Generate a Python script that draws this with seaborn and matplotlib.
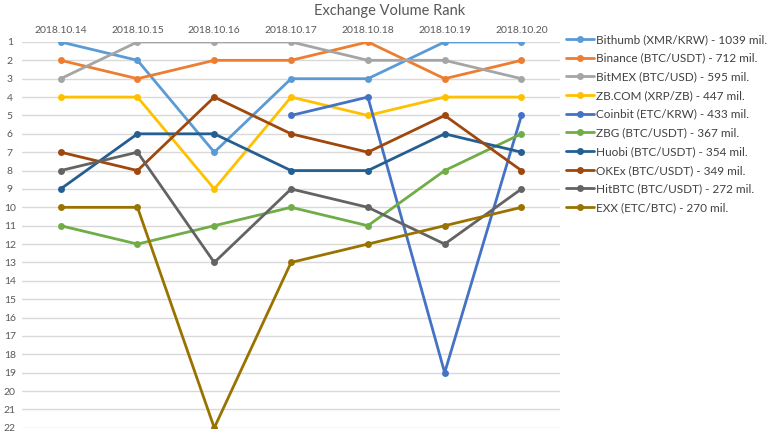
import matplotlib
matplotlib.use('Agg')
import matplotlib.pyplot as plt
import seaborn as sns
import pandas as pd
import numpy as np

dates = ['2018.10.14', '2018.10.15', '2018.10.16', '2018.10.17',
         '2018.10.18', '2018.10.19', '2018.10.20']

exchanges = ['Bithumb (XMR/KRW) - 1039 mil.', 'Binance (BTC/USDT) - 712 mil.',
             'BitMEX (BTC/USD) - 595 mil.', 'ZB.COM (XRP/ZB) - 447 mil.',
             'Coinbit (ETC/KRW) - 433 mil.', 'ZBG (BTC/USDT) - 367 mil.',
             'Huobi (BTC/USDT) - 354 mil.', 'OKEx (BTC/USDT) - 349 mil.',
             'HitBTC (BTC/USDT) - 272 mil.', 'EXX (ETC/BTC) - 270 mil.']

bithumb = [1, 2, 7, 3, 3, 1, 1]
binance = [2, 3, 2, 2, 1, 3, 2]
bitmex = [3, 1, 1, 1, 2, 2, 3]
zbcom = [4, 4, 9, 4, 5, 4, 4]
coinbit = [np.nan, np.nan, np.nan, 5, 4, 19, 5]
zbg = [11, 12, 11, 10, 11, 8, 6]
huobi = [9, 6, 6, 8, 8, 6, 7]
okex = [7, 8, 4, 6, 7, 5, 8]
hitbtc = [8, 7, 13, 9, 10, 12, 9]
exx = [10, 10, 22, 13, 12, 11, 10]

colors = ['#5B9BD5', '#ED7D31', '#A5A5A5', '#FFC000', '#4472C4',
          '#70AD47', '#255E91', '#9E480E', '#636363', '#997300']

series = [bithumb, binance, bitmex, zbcom, coinbit, zbg, huobi, okex, hitbtc, exx]
rows = []
for name, vals in zip(exchanges, series):
    for d, v in zip(dates, vals):
        if not np.isnan(v):
            rows.append({'date': d, 'rank': v, 'exchange': name})
df = pd.DataFrame(rows)
df['date'] = pd.Categorical(df['date'], categories=dates, ordered=True)
df['pos'] = df['date'].cat.codes

sns.set_style('white')
plt.rcParams['font.family'] = ['Lato', 'DejaVu Sans']

fig = plt.figure(figsize=(7.68, 4.37), dpi=100)
ax = fig.add_axes([0.029, 0.021, 0.700, 0.883])

sns.lineplot(data=df, x='pos', y='rank', hue='exchange', hue_order=exchanges,
             palette=dict(zip(exchanges, colors)), marker='o', markersize=5,
             markeredgewidth=0, linewidth=2, ax=ax, sort=False)

ax.set_xlim(-0.5, 6.5)
ax.set_ylim(22, 1)
ax.set_yticks(range(1, 23))
ax.set_yticklabels([str(i) for i in range(1, 23)])
ax.set_xticks(range(len(dates)))
ax.set_xticklabels(dates)
ax.xaxis.tick_top()
ax.tick_params(axis='both', length=0, labelsize=7.5, labelcolor='#595959')
ax.tick_params(axis='x', pad=5)
ax.tick_params(axis='y', pad=9)
for lbl in ax.get_yticklabels():
    lbl.set_horizontalalignment('center')
ax.set_xlabel('')
ax.set_ylabel('')
ax.grid(axis='y', color='#D9D9D9', linewidth=1)
ax.grid(axis='x', visible=False)
for s in ax.spines.values():
    s.set_visible(False)

leg = ax.legend(loc='upper left', bbox_to_anchor=(0.737, 0.922),
                bbox_transform=fig.transFigure, frameon=False,
                fontsize=8.5, handlelength=2.4, handletextpad=0.1,
                labelspacing=0.65, borderaxespad=0, borderpad=0)
for t in leg.get_texts():
    t.set_color('#404040')

fig.suptitle('Exchange Volume Rank', x=0.507, y=0.99, fontsize=10.5,
             color='#595959')

fig.savefig('out.png', dpi=100)
